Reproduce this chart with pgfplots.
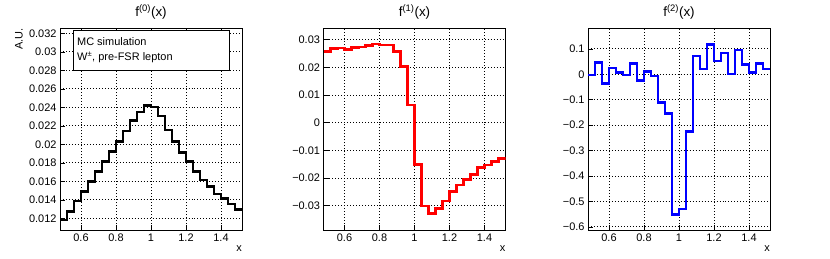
\documentclass[border=0pt]{standalone}
\usepackage{pgfplots}
\pgfplotsset{compat=1.18}
\usepackage{fontspec}
\setmainfont{Liberation Sans}
\pgfplotstableread{
x y
0.48 0.01182
0.52 0.01272
0.56 0.01387
0.60 0.01488
0.64 0.01596
0.68 0.01704
0.72 0.01812
0.76 0.01920
0.80 0.02028
0.84 0.02144
0.88 0.02255
0.92 0.02352
0.96 0.02417
1.00 0.02405
1.04 0.02306
1.08 0.02155
1.12 0.02028
1.16 0.01909
1.20 0.01812
1.24 0.01704
1.28 0.01614
1.32 0.01542
1.36 0.01463
1.40 0.01416
1.44 0.01355
1.48 0.01297
1.52 0.01297
}\fzero
\pgfplotstableread{
x y
0.48 0.02566
0.52 0.02689
0.56 0.02690
0.60 0.02653
0.64 0.02710
0.68 0.02736
0.72 0.02783
0.76 0.02844
0.80 0.02808
0.84 0.02808
0.88 0.02566
0.92 0.02024
0.96 0.00640
1.00 -0.01503
1.04 -0.03010
1.08 -0.03275
1.12 -0.03095
1.16 -0.02830
1.20 -0.02493
1.24 -0.02252
1.28 -0.02047
1.32 -0.01866
1.36 -0.01625
1.40 -0.01529
1.44 -0.01409
1.48 -0.01288
1.52 -0.01288
}\fone
\pgfplotstableread{
x y
0.48 -0.003
0.52 0.047
0.56 -0.036
0.60 0.024
0.64 0.007
0.68 -0.003
0.72 0.042
0.76 -0.025
0.80 0.011
0.84 -0.007
0.88 -0.111
0.92 -0.154
0.96 -0.551
1.00 -0.529
1.04 -0.224
1.08 0.072
1.12 0.021
1.16 0.116
1.20 0.053
1.24 0.083
1.28 0.001
1.32 0.096
1.36 0.039
1.40 0.008
1.44 0.043
1.48 0.021
1.52 0.021
}\ftwo
\pgfplotsset{panel/.style={
  scale only axis, width=182bp, height=202bp,
  anchor=south west,
  xmin=0.48, xmax=1.52,
  scaled x ticks=false, scaled y ticks=false,
  xtick={0.6,0.8,1,1.2,1.4},
  xticklabels={0.6,0.8,1,1.2,1.4},
  grid=major,
  grid style={black, line width=0.9pt, dash pattern=on 0.9pt off 2.1pt},
  tick align=inside,
  xtick pos=bottom, ytick pos=left,
  major tick length=5bp,
  tick style={black, line width=0.6pt},
  axis line style={line width=0.8pt},
  tick label style={font=\fontsize{11}{13}\selectfont},
  title style={font=\fontsize{13.5}{16}\selectfont, yshift=-1bp},
  xlabel={x},
  xlabel style={at={(axis description cs:1,0)}, anchor=north east, yshift=-16bp, font=\fontsize{11}{13}\selectfont, inner sep=0pt},
}}
\begin{document}
\begin{tikzpicture}
\useasboundingbox (0,0) rectangle (830bp,259bp);
\begin{axis}[panel, at={(60bp,29bp)},
  title={f\textsuperscript{(0)}(x)},
  ymin=0.01074, ymax=0.03258,
  ytick={0.012,0.014,0.016,0.018,0.02,0.022,0.024,0.026,0.028,0.03,0.032},
  yticklabels={0.012,0.014,0.016,0.018,0.02,0.022,0.024,0.026,0.028,0.03,0.032},
  ylabel={A.U.},
  ylabel style={at={(axis description cs:-0.203,1)}, anchor=south east, inner sep=0pt, font=\fontsize{11}{13}\selectfont},
]
\addplot[const plot, black, line width=2.6pt] table {\fzero};
\draw[fill=white, line width=0.8pt] (axis description cs:0.071,0.792) rectangle (axis description cs:0.929,0.99);
\node[anchor=west, align=left, font=\fontsize{11}{14.5}\selectfont] at (axis description cs:0.075,0.89) {MC simulation\\W\textsuperscript{±}, pre-FSR lepton};
\end{axis}
\begin{axis}[panel, at={(323.5bp,29bp)},
  title={f\textsuperscript{(1)}(x)},
  ymin=-0.0388, ymax=0.0342,
  ytick={-0.03,-0.02,-0.01,0,0.01,0.02,0.03},
  yticklabels={−0.03,−0.02,−0.01,0,0.01,0.02,0.03},
]
\addplot[const plot, red, line width=2.6pt] table {\fone};
\end{axis}
\begin{axis}[panel, at={(588bp,29bp)},
  title={f\textsuperscript{(2)}(x)},
  ymin=-0.612, ymax=0.182,
  ytick={-0.6,-0.5,-0.4,-0.3,-0.2,-0.1,0,0.1},
  yticklabels={−0.6,−0.5,−0.4,−0.3,−0.2,−0.1,0,0.1},
]
\addplot[const plot, blue, line width=2.6pt] table {\ftwo};
\end{axis}
\end{tikzpicture}
\end{document}
